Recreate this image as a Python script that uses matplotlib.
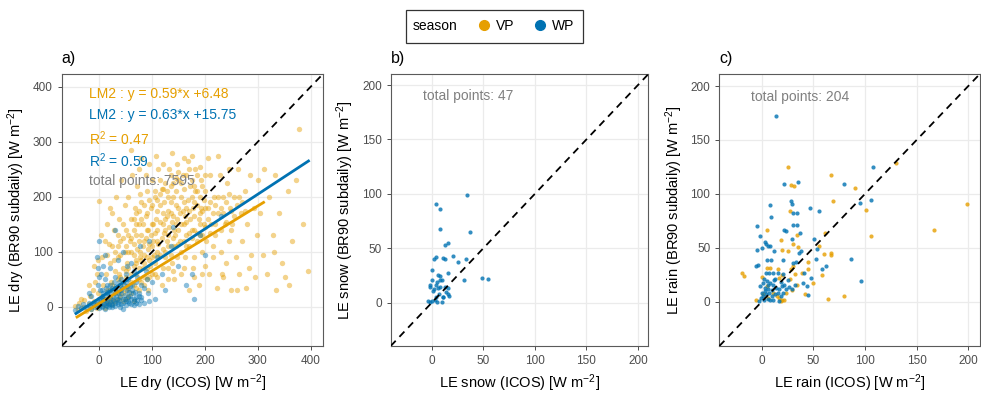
import numpy as np
import matplotlib
matplotlib.use('Agg')
import matplotlib.pyplot as plt
from matplotlib.lines import Line2D
from matplotlib.patches import Rectangle

plt.rcParams['font.family'] = ['Liberation Sans', 'DejaVu Sans']
plt.rcParams['mathtext.fontset'] = 'custom'
plt.rcParams['mathtext.rm'] = 'Liberation Sans'
plt.rcParams['mathtext.it'] = 'Liberation Sans:italic'

VP_COL = '#E69F00'
WP_COL = '#0072B2'

# ---- panel a: dry (thinned) ----
dry_vp = [(-45,2),(-40,-5),(-38,8),(-30,0),(-28,12),(-25,-8),(-20,5),(-18,20),(-15,-3),(-12,30),
          (-10,10),(-8,45),(-5,-2),(-5,60),(-3,25),(-2,85),(-1,193),(-20,40),(-35,15),(-10,75),
          (2,5),(5,20),(5,90),(8,40),(10,120),(10,-2),(12,60),(15,30),(15,150),(18,10),
          (20,80),(20,180),(22,45),(25,110),(25,5),(28,140),(30,25),(30,65),(32,200),(35,90),
          (35,15),(38,160),(40,40),(40,120),(42,230),(45,70),(45,10),(48,100),(48,185),(50,55),
          (50,140),(50,30),(15,95),(25,170),(35,130),(45,150),(3,130),(38,60),(28,85),(18,115),
          (52,80),(55,200),(55,20),(58,120),(60,160),(60,45),(62,240),(65,95),(65,10),(68,180),
          (70,60),(70,130),(72,220),(75,30),(75,150),(78,100),(80,270),(80,190),(82,70),(85,120),
          (85,40),(88,165),(90,210),(90,90),(92,140),(95,260),(95,55),(98,180),(100,110),(100,230),
          (60,285),(75,250),(88,240),(55,100),(65,140),(78,205),(92,30),(70,170),(83,150),(97,75),
          (102,150),(105,200),(105,60),(108,275),(110,120),(110,175),(112,90),(115,230),(118,40),(120,150),
          (120,260),(122,190),(125,100),(128,210),(130,130),(130,70),(132,250),(135,170),(138,280),(140,110),
          (140,200),(142,50),(145,150),(145,235),(148,90),(150,180),(115,185),(125,140),(135,220),(148,260),
          (103,95),(118,215),(128,165),(143,130),(112,250),(137,80),
          (152,120),(155,200),(155,60),(158,240),(160,150),(162,90),(165,180),(168,265),(170,110),(172,220),
          (175,140),(178,70),(180,190),(182,250),(185,120),(188,40),(190,170),(192,230),(195,100),(198,150),
          (200,210),(160,270),(175,275),(185,210),(170,30),(195,60),(165,130),(150,230),(190,130),(180,90),
          (202,120),(205,180),(208,60),(210,240),(212,150),(215,90),(218,200),(220,130),(222,35),(225,170),
          (228,240),(230,100),(232,60),(235,200),(238,150),(240,80),(242,225),(245,120),(248,180),(250,30),
          (205,270),(225,275),(245,250),(215,110),(235,55),
          (252,150),(255,200),(258,90),(262,250),(265,60),(268,170),(270,120),(275,210),(278,35),(280,150),
          (285,240),(288,95),(292,180),(295,55),(298,130),(300,230),(260,30),(283,70),
          (305,170),(310,95),(312,250),(318,60),(322,200),(328,130),(332,240),(335,30),(340,170),(345,80),
          (352,55),(358,210),(365,120),(372,230),(378,324),(385,150),(396,65),(360,40),(330,100),
          # dense core
          (60,100),(65,115),(70,85),(72,105),(75,120),(78,90),(80,130),(82,110),(85,95),(88,125),
          (90,140),(92,105),(95,115),(98,130),(100,150),(102,120),(105,135),(108,160),(110,140),(112,115),
          (115,155),(118,125),(120,170),(122,135),(125,160),(128,120),(130,175),(132,145),(135,190),(138,155),
          (140,165),(142,140),(145,185),(148,160),(150,140),(152,170),(155,150),(158,175),(160,190),(162,165),
          (165,155),(168,195),(170,175),(172,160),(175,200),(178,180),(180,165),(182,210),(185,185),(188,160),
          (190,200),(192,180),(195,175),(198,195),(200,180),(205,160),(210,190),(215,170),(220,185),(225,200),
          (230,180),(235,170),(240,190),(245,205),(250,175),(255,165),(260,185),(265,200),(270,190),(275,175),
          (20,30),(25,40),(30,35),(35,50),(40,55),(45,45),(50,65),(55,70),(60,60),(65,75),
          (70,80),(75,70),(80,85),(85,80),(90,70),(95,85),(100,90),(105,80),(110,100),(115,95),
          (120,105),(125,90),(130,110),(135,95),(140,125),(145,110),(150,115),(155,100),(160,120),(165,110),
          (170,135),(175,125),(180,140),(185,135),(190,150),(195,130),(200,145),(210,135),(220,150),(230,140),
          (240,155),(250,140),
          (30,100),(35,110),(40,95),(45,125),(50,110),(55,130),(60,125),(65,160),(70,150),(75,175),
          (80,160),(85,185),(90,170),(95,195),(100,185),(105,210),(110,195),(115,205),(120,215),(125,225),
          (130,200),(135,240),(140,225),(145,210),(150,245),(155,225),(160,215),(165,240),(170,250),(175,230),
          (180,220),(185,240),(190,255),(195,220),(200,240),
          (5,5),(10,12),(15,8),(20,18),(25,15),(30,10),(35,28),(40,20),(45,25),(50,15),
          (55,35),(60,25),(65,40),(70,35),(75,50),(80,45),(85,55),(90,50),(100,60),(110,55),
          (120,70),(130,50),(140,65),(160,70),(180,55),(200,75)]
dry_wp = [(-45,-5),(-40,2),(-35,-2),(-30,5),(-25,0),(-20,8),(-15,-3),(-10,3),(-5,10),(-3,70),
          (-5,90),(0,-2),(2,5),(5,0),(5,30),(8,12),(10,-3),(10,50),(12,8),(15,2),
          (15,25),(18,-1),(20,15),(20,70),(22,5),(25,0),(25,35),(28,10),(30,2),(30,55),
          (32,20),(35,5),(35,85),(38,12),(40,0),(40,40),(42,25),(45,8),(45,100),(48,15),
          (50,3),(50,60),(52,30),(55,10),(58,20),(60,5),(60,80),(62,40),(65,15),(68,28),
          (70,8),(72,55),(75,20),(78,110),(80,12),(85,35),(88,65),(92,25),(95,120),(100,45),
          (105,15),(110,90),(118,60),(125,30),(135,110),(150,75),(165,40),(180,15),(190,130),(200,95),
          (230,165),(175,60),(20,30),(15,40),(8,20),(3,15),(12,35),(28,45),(55,50),(65,65),
          (-15,20),(-20,25),(0,120),(10,95),(30,140),(140,145),(45,-3),(65,3),(75,5),(85,8),
          (95,10),(37,30),(42,50),(52,75),
          (0,3),(3,8),(6,2),(9,6),(12,3),(15,10),(18,5),(21,9),(24,4),(27,12),
          (30,7),(33,15),(36,9),(39,18),(42,6),(45,14),(48,22),(51,10),(54,18),(57,8),
          (60,15),(63,25),(66,10),(69,18),(72,12),(76,25),(80,18),(5,18),(8,25),(11,15),
          (14,28),(17,20),(20,40),(23,25),(26,20),(29,30),(32,38),(35,25),(38,45),(41,30),
          (44,35),(47,40),(50,45),(53,38),(56,28),(0,15),(-5,5),(-8,0),(-12,8),(-18,2),
          (-2,40),(0,55),(4,60),(7,75),(2,30),(58,38),(62,30),(70,45),(80,40),(90,50)]

# fitted lines (slope, intercept, x range)
fit_vp = (0.59, 6.48, -42, 311)
fit_wp = (0.63, 15.75, -44, 396)
eq_labels = ['LM2 : y = 0.59*x +6.48', 'LM2 : y = 0.63*x +15.75',
             'R$^2$ = 0.47', 'R$^2$ = 0.59', 'total points: 7595']
eq_colors = [VP_COL, WP_COL, VP_COL, WP_COL, 'grey']
eq_y = [387, 349, 306, 266, 228]

# ---- panel b: snow ----
snow_wp = [(3.5,91),(8,86),(34,99),(8,68),(37,65),(16,55),(12.5,53),(20,43),(33,40),(4,42),
           (1.6,40),(10.6,41),(13,40),(25,37),(15.5,27),(0,30),(31.6,21),(49,23),(54,22),(0.3,21),
           (6,25),(8,24),(7.4,21),(5,19),(9.4,21),(-2,16),(-1.6,14),(2,12),(1,11),(13,14.5),
           (15.5,13),(14,10),(16,8),(16.5,6),(11,5),(3.5,5),(7,8),(-4,1),(-2,0.6),(0,1.5),
           (3,2),(5,0.6),(10,0.6),(10.6,5),(6,13),(7.4,14.5),(4,16)]

# ---- panel c: rain ----
rain_wp = [(14,172),(108,125),(80,109),(22,109),(35,111),(8,90),(28,93),(29,91),(47,87),(55,84),
           (95.5,91.5),(105.5,94),(9.4,79),(30,82),(34.5,82),(30,71),(34,71),(-5,70),(21.7,67),(23.6,66),
           (37,64),(-2,61),(29.4,58),(51,58),(3,55.5),(4.5,54),(7.8,52),(6,51.5),(-5,48),(0.6,50),
           (11.6,47),(38.5,47),(36,45),(53.4,49),(53,40),(58,30),(62,33),(86,40),(96.4,19),(-4,34.5),
           (-5.5,33),(5,39),(9.4,38.5),(21,38.5),(30,36),(33,37),(41,27),(47.6,22),(39.5,17.5),(43.4,14.5),
           (44.7,6),(16,27),(20.4,26),(13,21),(4,27),(7.4,27),(11.3,27),
           (2.6,20.7),(4.9,19.4),(1,17.6),(-1.3,14.5),(3.6,12.9),(6.1,15.1),(8.4,17.6),(11.3,16),(13.9,12.9),(17.2,11.4),
           (19.7,14.5),(10,11),(7.4,8.3),(4.2,6.8),(1.6,5.2),(-0.6,3.7),(-2.3,0.6),(2.6,1.5),(5.8,2.8),(10,5.2),
           (13.3,6.8),(15.9,8.3),(18.4,5.2),(21,8.3),(23.6,12),(26.9,13.9),(29.4,11.4),(32,16),(25.2,20.4),(6.1,12),
           (8.1,1.5),(11.3,1.5),(16.5,0.6),(3.6,9.9),(0.3,8.3),(12.3,20.1),(19.1,18.2),(22,16)]
rain_vp = [(25,125),(130,128.5),(67,118),(28,108.5),(31,107),(90.6,105.4),(68.6,93),(101,85),(199,90.6),(166.7,67),
           (106,61),(27,84.5),(5,67),(61,64),(34,62),(19,57),(30.4,54),(55,52),(35,51),(20,48),
           (25.6,47),(5,31),(8,31),(-19,27),(-17,24),(60.5,44),(67,45),(67,43),(44.7,37),(44.7,30),
           (49.5,17),(58,25),(32,26),(33.7,16),(29,11),(42,7),(64,2.5),(80,5),(-6,2),(20,25),
           (16.5,22),(0,23),(5,14.5),(14.5,5),(17,3.7),(20,2),(19,0.6),(21.7,1.5),(10.7,7.7),(6,3.7),
           (27,21),(16,30),(30,33),(39,27),(1,7),(24,8),(28.5,30)]

fig = plt.figure(figsize=(9.81, 3.93), dpi=100)
axa = fig.add_axes([0.0629, 0.1196, 0.2661, 0.6916])
axb = fig.add_axes([0.3983, 0.1196, 0.2625, 0.6916])
axc = fig.add_axes([0.7333, 0.1196, 0.2653, 0.6916])


def style(ax, lim, ticks):
    ax.set_xlim(lim)
    ax.set_ylim(lim)
    ax.set_xticks(ticks)
    ax.set_yticks(ticks)
    ax.grid(True, color='#EBEBEB', linewidth=0.9)
    ax.set_axisbelow(True)
    for s in ax.spines.values():
        s.set_color('#5A5A5A')
        s.set_linewidth(0.8)
    ax.tick_params(colors='#4D4D4D', labelsize=8.5, length=3, width=0.7)
    ax.axline((0, 0), slope=1, color='black', linestyle=(0, (4, 3)), linewidth=1.3, zorder=5)


style(axa, (-71, 423), [0, 100, 200, 300, 400])
xa, ya = np.array(dry_vp).T
axa.scatter(xa, ya, s=15, color=VP_COL, alpha=0.45, linewidths=0, zorder=2)
xa, ya = np.array(dry_wp).T
axa.scatter(xa, ya, s=15, color=WP_COL, alpha=0.45, linewidths=0, zorder=3)
for (m, c, x0, x1), col in [(fit_vp, VP_COL), (fit_wp, WP_COL)]:
    xs = np.array([x0, x1])
    axa.plot(xs, m * xs + c, color=col, linewidth=2, zorder=4)
for lab, col, yy in zip(eq_labels, eq_colors, eq_y):
    axa.text(-19, yy, lab, color=col, fontsize=10, ha='left', va='center', zorder=6)
axa.set_xlabel('LE dry (ICOS) [W m$^{-2}$]', fontsize=10.5)
axa.set_ylabel('LE dry (BR90 subdaily) [W m$^{-2}$]', fontsize=10.5)

style(axb, (-40, 210), [0, 50, 100, 150, 200])
xb, yb = np.array(snow_wp).T
axb.scatter(xb, yb, s=9, color=WP_COL, alpha=0.8, linewidths=0, zorder=3)
axb.text(-9, 190, 'total points: 47', color='grey', fontsize=10, ha='left', va='center')
axb.set_xlabel('LE snow (ICOS) [W m$^{-2}$]', fontsize=10.5)
axb.set_ylabel('LE snow (BR90 subdaily) [W m$^{-2}$]', fontsize=10.5)

style(axc, (-41, 211), [0, 50, 100, 150, 200])
xc, yc = np.array(rain_vp).T
axc.scatter(xc, yc, s=9, color=VP_COL, alpha=0.8, linewidths=0, zorder=3)
xc, yc = np.array(rain_wp).T
axc.scatter(xc, yc, s=9, color=WP_COL, alpha=0.8, linewidths=0, zorder=3)
axc.text(-10, 190, 'total points: 204', color='grey', fontsize=10, ha='left', va='center')
axc.set_xlabel('LE rain (ICOS) [W m$^{-2}$]', fontsize=10.5)
axc.set_ylabel('LE rain (BR90 subdaily) [W m$^{-2}$]', fontsize=10.5)

for ax, lab in [(axa, 'a)'), (axb, 'b)'), (axc, 'c)')]:
    ax.text(0, 1.03, lab, transform=ax.transAxes, fontsize=11.5, ha='left', va='bottom')

# legend at top
fig.patches.append(Rectangle((0.414, 0.891), 0.180, 0.084, transform=fig.transFigure,
                             fill=False, edgecolor='#333333', linewidth=0.9))
fig.text(0.421, 0.933, 'season', fontsize=10, ha='left', va='center')
handles = [Line2D([], [], marker='o', linestyle='none', color=VP_COL, markersize=7),
           Line2D([], [], marker='o', linestyle='none', color=WP_COL, markersize=7)]
fig.legend(handles, ['VP', 'WP'], ncol=2, frameon=False, loc='center',
           bbox_to_anchor=(0.535, 0.933), fontsize=10, handletextpad=0.3,
           columnspacing=1.2, handlelength=1.2)

fig.savefig('out.png', dpi=100)
